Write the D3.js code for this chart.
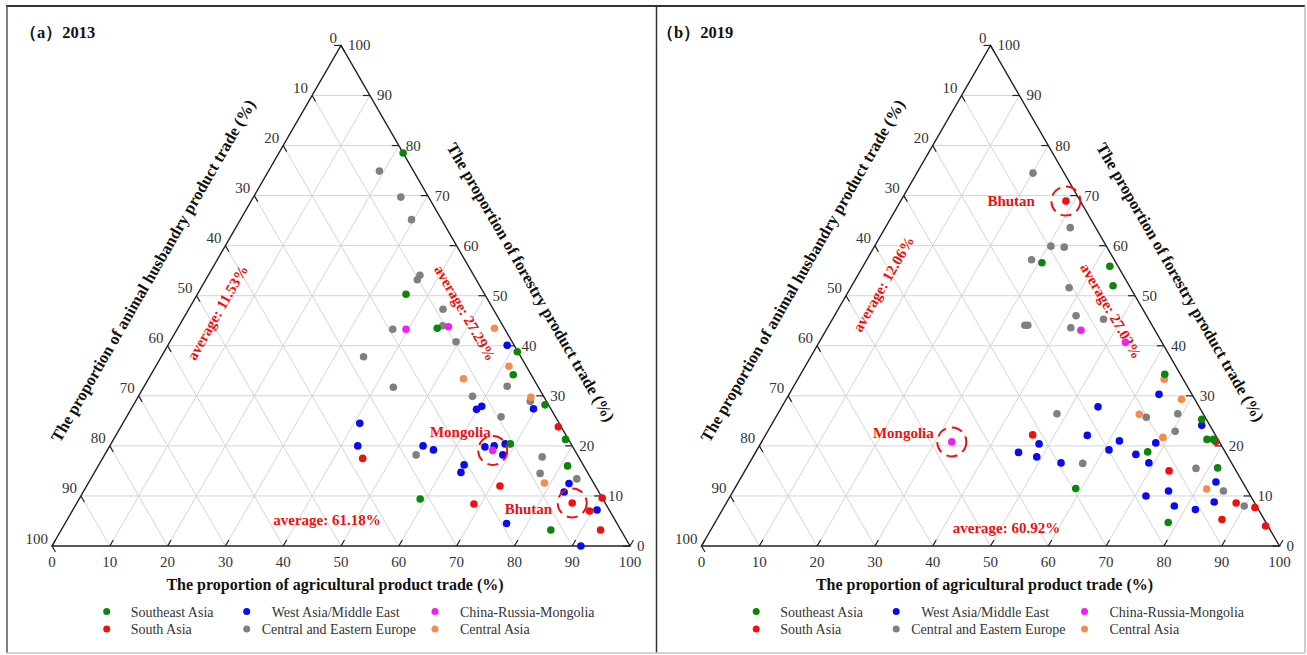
<!DOCTYPE html>
<html>
<head>
<meta charset="utf-8">
<script src="https://cdn.jsdelivr.net/npm/d3@7"></script>
<style>
  body { margin: 0; background: #fff; }
  svg { display: block; }
  text { font-family: "Liberation Serif", "Times New Roman", serif; }
</style>
</head>
<body>
<svg id="chart" width="1307" height="655"></svg>
<script>
// Region groups (legend order: row 1 then row 2)
const regionNames = ["Southeast Asia", "West Asia/Middle East", "China-Russia-Mongolia",
                     "South Asia", "Central and Eastern Europe", "Central Asia"];
const regionKeys = ["sea", "wam", "crm", "sa", "cee", "ca"];
const regionColors = ["#0b850b", "#0a0af0", "#f020f0", "#f01010", "#808080", "#f28c50"];

// Each country: [agricultural %, animal husbandry %, forestry %]
// ---- 2013 ----
const sea2013 = [[21.5,0,78.5],[36.1,13.6,50.3],[44.9,11.6,43.5],[61.1,0.1,38.8],[62.7,3.1,34.2],
  [71.2,0.6,28.2],[78.2,0.5,21.3],[69.1,10.5,20.4],[81.2,2.8,16.0],[59.0,31.6,9.4],[84.7,12.1,3.2]];
const sa2013 = [[75.7,0.5,23.8],[45.0,37.5,17.5],[71.5,16.5,12.0],[90.4,0,9.6],[68.8,22.8,8.4],
  [85.7,5.7,8.6],[89.5,3.5,7.0],[93.3,3.5,3.2]];
const wam2013 = [[58.7,1.2,40.1],[60.4,11.7,27.9],[59.8,12.9,27.3],[69.6,3.0,27.4],[41.0,34.5,24.5],
  [42.9,37.1,20.0],[54.2,25.8,20.0],[56.4,24.4,19.2],[65.0,15.2,19.8],[66.5,13.5,20.0],[68.2,11.4,20.4],
  [68.9,12.9,18.2],[63.2,20.6,16.2],[63.4,21.9,14.7],[83.2,4.3,12.5],[83.2,6.0,10.8],[90.7,2.1,7.2],
  [76.4,19.1,4.5],[91.5,8.5,0]];
const crm2013 = [[39.6,17.1,43.3],[46.7,9.5,43.8],[66.7,14.2,19.1]];
const cee2013 = [[19.2,5.9,74.9],[25.5,4.8,69.7],[29.6,5.2,65.2],[36.6,9.3,54.1],[36.6,10.2,53.2],
  [44.0,8.7,47.3],[37.3,19.4,43.3],[45.6,10.4,44.0],[49.5,9.7,40.8],[35.0,27.2,37.8],[43.2,25.1,31.7],
  [62.8,5.3,31.9],[57.8,12.3,29.9],[68.3,2.8,28.9],[64.8,9.4,25.8],[53.9,27.9,18.2],[75.9,6.3,17.8],
  [77.2,8.3,14.5],[84.1,2.5,13.4]];
const ca2013 = [[54.8,1.7,43.5],[61.1,3.0,35.9],[54.5,12.1,33.4],[68.0,2.3,29.7],[78.9,8.5,12.6]];

// ---- 2019 ----
const sea2019 = [[30.6,12.8,56.6],[42.7,1.4,55.9],[45.2,2.8,52.0],[63.0,2.7,34.3],[73.9,0.8,25.3],
  [76.8,1.9,21.3],[77.9,0.8,21.3],[67.8,13.4,18.8],[81.5,2.9,15.6],[59.0,29.5,11.5],[78.4,16.9,4.7]];
const sa2019 = [[28.6,2.5,68.9],[78.5,0.6,20.9],[46.2,31.6,22.2],[73.4,11.6,15.0],[88.2,3.2,8.6],
  [91.9,0.4,7.7],[87.4,7.3,5.3],[95.6,0.4,4.0]];
const wam2019 = [[64.0,5.7,30.3],[54.7,17.5,27.8],[74.5,1.4,24.1],[55.7,22.2,22.1],[61.8,17.2,21.0],
  [68.3,11.1,20.6],[48.2,31.4,20.4],[60.9,19.9,19.2],[45.5,35.8,18.7],[66.0,15.7,18.3],[49.1,33.1,17.8],
  [69.1,14.3,16.6],[53.9,29.5,16.6],[82.6,4.6,12.8],[75.3,13.7,11.0],[71.9,18.1,10.0],[84.3,6.9,8.8],
  [77.8,14.2,8.0],[81.8,10.9,7.3]];
const crm2019 = [[32.9,46.3,20.8],[44.1,12.8,43.1],[53.0,6.3,40.7]];
const cee2019 = [[20.1,5.4,74.5],[32.0,4.4,63.6],[30.5,9.6,59.9],[32.9,7.4,59.7],[28.5,14.3,57.2],
  [37.8,10.6,51.6],[41.8,12.2,46.0],[46.9,7.8,45.3],[33.9,22.0,44.1],[34.4,21.5,44.1],[42.1,14.3,43.6],
  [48.3,25.3,26.4],[64.1,10.2,25.7],[69.2,4.4,26.4],[70.5,6.6,22.9],[57.7,25.8,16.5],[77.8,6.7,15.5],
  [84.8,4.2,11.0],[89.9,2.1,8.0]];
const ca2019 = [[63.4,3.3,33.3],[68.4,2.3,29.3],[62.6,11.1,26.3],[69.0,9.3,21.7],[81.7,6.9,11.4]];

// Average shares: [agricultural, animal husbandry, forestry]
const averages2013 = [61.18, 11.53, 27.29];
const averages2019 = [60.92, 12.06, 27.02];

// Highlighted countries: [name, region key, index in that region's list]
const callouts2013 = [["Mongolia", "crm", 2], ["Bhutan", "sa", 5]];
const callouts2019 = [["Mongolia", "crm", 0], ["Bhutan", "sa", 0]];

const tickValues = [0, 10, 20, 30, 40, 50, 60, 70, 80, 90, 100];
const gridValues = [10, 20, 30, 40, 50, 60, 70, 80, 90];

const axisTitles = {
  bottom: "The proportion of agricultural product trade (%)",
  left: "The proportion of animal husbandry product trade (%)",
  right: "The proportion of forestry product trade (%)"
};

const panels = [
  { title: "（a）2013", titleX: 20, x0: 52,
    series: { sea: sea2013, sa: sa2013, wam: wam2013, crm: crm2013, cee: cee2013, ca: ca2013 },
    averages: averages2013, callouts: callouts2013,
    avgPos: { left: [165.5, 312.5], right: [413, 313], bottom: [275, 520] },
    calloutText: { Mongolia: [-2, -13, "end"], Bhutan: [-20, 11, "end"] } },
  { title: "（b）2019", titleX: 657, x0: 701.5,
    series: { sea: sea2019, sa: sa2019, wam: wam2019, crm: crm2019, cee: cee2019, ca: ca2019 },
    averages: averages2019, callouts: callouts2019,
    avgPos: { left: [182, 284], right: [409.5, 311], bottom: [305, 528] },
    calloutText: { Mongolia: [-18, -4, "end"], Bhutan: [-31, 5, "end"] } }
];

const svg = d3.select("#chart");
const W = 578, H = W * Math.sqrt(3) / 2, BASE = 546;
const S60 = Math.sqrt(3) / 2;

// Outer frames of the two panels
const frame = svg.append("g");
frame.append("line").attr("x1", 6).attr("y1", 6).attr("x2", 1305).attr("y2", 6)
  .attr("stroke", "#333").attr("stroke-width", 2);
frame.append("line").attr("x1", 7).attr("y1", 6).attr("x2", 7).attr("y2", 653)
  .attr("stroke", "#555").attr("stroke-width", 1.5);
frame.append("line").attr("x1", 656.5).attr("y1", 6).attr("x2", 656.5).attr("y2", 653)
  .attr("stroke", "#333").attr("stroke-width", 1.5);
frame.append("line").attr("x1", 1305).attr("y1", 6).attr("x2", 1305).attr("y2", 653)
  .attr("stroke", "#bbb").attr("stroke-width", 1.5);
frame.append("line").attr("x1", 6).attr("y1", 653).attr("x2", 1305).attr("y2", 653)
  .attr("stroke", "#c4c4c4").attr("stroke-width", 1.5);

panels.forEach(drawPanel);

function drawPanel(cfg) {
  const g = svg.append("g");
  const x = d3.scaleLinear().domain([0, 100]).range([cfg.x0, cfg.x0 + W]);
  const y = d3.scaleLinear().domain([0, 100]).range([BASE, BASE - H]);
  // ternary (agricultural a, forestry f) -> screen point
  const pos = (a, f) => [x(a + f / 2), y(f)];

  // Panel title
  g.append("text").attr("x", cfg.titleX).attr("y", 38)
    .attr("font-size", 16.5).attr("font-weight", "bold").attr("fill", "#111")
    .text(cfg.title);

  // Grid
  const grid = g.append("g").attr("stroke", "#d4d4d4").attr("stroke-width", 1);
  gridValues.forEach(v => {
    const segs = [
      [pos(0, v), pos(100 - v, v)],        // constant forestry
      [pos(v, 0), pos(v, 100 - v)],        // constant agricultural
      [pos(0, 100 - v), pos(100 - v, 0)]   // constant animal husbandry
    ];
    segs.forEach(([p, q]) => grid.append("line")
      .attr("x1", p[0]).attr("y1", p[1]).attr("x2", q[0]).attr("y2", q[1]));
  });

  // Triangle outline
  const tri = [pos(0, 0), pos(100, 0), pos(0, 100)];
  g.append("path").attr("d", d3.line()(tri) + "Z")
    .attr("fill", "none").attr("stroke", "#222").attr("stroke-width", 1.4);

  // Ticks and tick labels
  const TL = 7;
  const ticks = g.append("g").attr("stroke", "#222").attr("stroke-width", 1.2);
  const labels = g.append("g").attr("font-size", 15).attr("fill", "#333");
  tickValues.forEach(v => {
    const pb = pos(v, 0);
    ticks.append("line").attr("x1", pb[0]).attr("y1", pb[1])
      .attr("x2", pb[0] + TL * 0.5).attr("y2", pb[1] - TL * S60);
    labels.append("text").attr("x", pb[0]).attr("y", BASE + 21)
      .attr("text-anchor", "middle").text(v);

    const pl = pos(0, 100 - v);
    ticks.append("line").attr("x1", pl[0]).attr("y1", pl[1])
      .attr("x2", pl[0] + TL * 0.5).attr("y2", pl[1] + TL * S60);
    labels.append("text").attr("x", pl[0] - 4).attr("y", pl[1] - 2.5)
      .attr("text-anchor", "end").text(v);

    const pr = pos(100 - v, v);
    ticks.append("line").attr("x1", pr[0]).attr("y1", pr[1])
      .attr("x2", pr[0] - TL).attr("y2", pr[1]);
    labels.append("text").attr("x", pr[0] + 7).attr("y", pr[1] + 5)
      .attr("text-anchor", "start").text(v);
  });

  // Axis titles
  const sideTitleSize = 16.5;
  const bottomMid = [(tri[0][0] + tri[1][0]) / 2, BASE];
  g.append("text").attr("x", bottomMid[0] - 6).attr("y", 590)
    .attr("text-anchor", "middle").attr("font-size", 16)
    .attr("font-weight", "bold").attr("fill", "#111").text(axisTitles.bottom);

  const leftMid = [(tri[0][0] + tri[2][0]) / 2, (tri[0][1] + tri[2][1]) / 2];
  const lc = [leftMid[0] - 50 * S60, leftMid[1] - 50 * 0.5];
  g.append("text").attr("transform", `translate(${lc[0]},${lc[1]}) rotate(-60)`)
    .attr("text-anchor", "middle").attr("dominant-baseline", "central")
    .attr("font-size", sideTitleSize).attr("font-weight", "bold")
    .attr("fill", "#111").text(axisTitles.left);

  const rightMid = [(tri[1][0] + tri[2][0]) / 2, (tri[1][1] + tri[2][1]) / 2];
  const rc = [rightMid[0] + 46 * S60 + 11 * 0.5, rightMid[1] - 46 * 0.5 + 11 * S60];
  g.append("text").attr("transform", `translate(${rc[0]},${rc[1]}) rotate(60)`)
    .attr("text-anchor", "middle").attr("dominant-baseline", "central")
    .attr("font-size", sideTitleSize).attr("font-weight", "bold")
    .attr("fill", "#111").text(axisTitles.right);

  // Average annotations
  const avgFmt = v => `average: ${v.toFixed(2)}%`;
  const avg = g.append("g").attr("font-size", 15).attr("font-weight", "bold")
    .attr("fill", "#f01010").attr("text-anchor", "middle").attr("dominant-baseline", "central");
  avg.append("text")
    .attr("transform", `translate(${cfg.x0 + cfg.avgPos.bottom[0]},${cfg.avgPos.bottom[1]})`)
    .text(avgFmt(cfg.averages[0]));
  avg.append("text")
    .attr("transform", `translate(${cfg.x0 + cfg.avgPos.left[0]},${cfg.avgPos.left[1]}) rotate(-60)`)
    .text(avgFmt(cfg.averages[1]));
  avg.append("text")
    .attr("transform", `translate(${cfg.x0 + cfg.avgPos.right[0]},${cfg.avgPos.right[1]}) rotate(60)`)
    .text(avgFmt(cfg.averages[2]));

  // Country points
  const pts = g.append("g");
  const drawOrder = ["cee", "ca", "wam", "sa", "sea", "crm"];
  drawOrder.forEach(key => {
    const color = regionColors[regionKeys.indexOf(key)];
    pts.selectAll(null).data(cfg.series[key]).enter().append("circle")
      .attr("cx", d => pos(d[0], d[2])[0])
      .attr("cy", d => pos(d[0], d[2])[1])
      .attr("r", 3.8).attr("fill", color);
  });

  // Highlighted countries
  cfg.callouts.forEach(([name, key, idx]) => {
    const d = cfg.series[key][idx];
    const p = pos(d[0], d[2]);
    g.append("circle").attr("cx", p[0]).attr("cy", p[1]).attr("r", 14.5)
      .attr("fill", "none").attr("stroke", "#f01010").attr("stroke-width", 2)
      .attr("stroke-dasharray", "11 6");
    const t = cfg.calloutText[name];
    g.append("text").attr("x", p[0] + t[0]).attr("y", p[1] + t[1])
      .attr("text-anchor", t[2]).attr("font-size", 15).attr("font-weight", "bold")
      .attr("fill", "#f01010").text(name);
  });

  // Legend
  const legendLayout = [
    { mx: 54.7, tx: 78.7, y: 611.5 }, { mx: 194.7, tx: 219.7, y: 611.5 }, { mx: 383, tx: 408, y: 611.5 },
    { mx: 54.7, tx: 78.7, y: 629 },   { mx: 194.7, tx: 209.7, y: 629 },   { mx: 383, tx: 408, y: 629 }
  ];
  const lg = g.append("g");
  regionNames.forEach((name, i) => {
    const L = legendLayout[i];
    lg.append("circle").attr("cx", cfg.x0 + L.mx).attr("cy", L.y).attr("r", 3.5)
      .attr("fill", regionColors[i]);
    lg.append("text").attr("x", cfg.x0 + L.tx).attr("y", L.y + 5)
      .attr("font-size", 14).attr("fill", "#333").text(name);
  });
}
</script>
</body>
</html>
